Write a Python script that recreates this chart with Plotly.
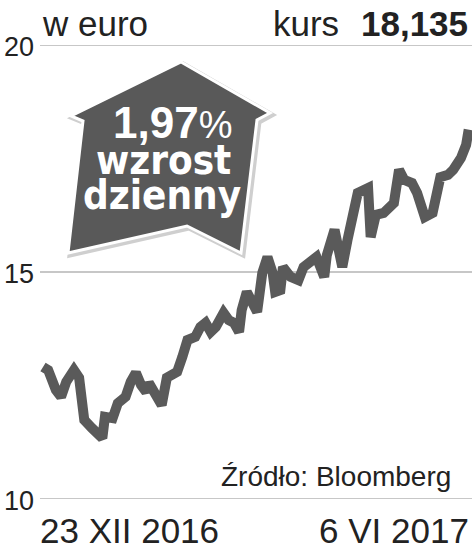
import plotly.graph_objects as go

# ---- data ----
days = [0, 2, 5, 7, 9, 10, 12, 14, 16, 19, 21, 23, 24, 27, 29, 32, 34, 36, 38, 40,
        41, 44, 46, 48, 50, 52, 54, 56, 59, 61, 63, 65, 67, 70, 72, 74, 76, 77, 79, 81,
        83, 85, 87, 89, 90, 92, 93, 96, 99, 101, 104, 106, 109, 110, 113, 116, 118, 120, 122, 126,
        127, 129, 132, 136, 138, 140, 143, 145, 148, 151, 153, 154, 157, 159, 162, 164, 165]
kurs = [12.91, 12.84, 12.40, 12.25, 12.58, 12.67, 12.84, 12.67, 11.74, 11.56, 11.48, 11.34, 11.81, 11.78, 12.11, 12.25, 12.58, 12.78, 12.51, 12.36,
        12.56, 12.29, 12.07, 12.67, 12.73, 12.80, 13.13, 13.50, 13.57, 13.79, 13.88, 13.68, 13.79, 14.10, 13.94, 13.88, 13.68, 14.16, 14.56, 14.38,
        14.12, 14.98, 15.33, 14.98, 14.56, 14.60, 15.11, 14.89, 14.82, 15.11, 15.26, 15.33, 14.89, 15.37, 15.93, 15.11, 15.70, 16.15, 16.74, 16.85,
        15.77, 16.26, 16.30, 16.52, 17.25, 17.03, 16.96, 16.74, 16.21, 16.30, 16.74, 17.09, 17.14, 17.25, 17.51, 17.80, 18.135]
y_ticks = [10, 15, 20]
y_tick_labels = ["10", "15", "20"]
date_labels = ["23 XII 2016", "6 VI 2017"]
unit_label = "w euro"
price_label = "18,135"
change_label = "1,97"
source_label = "Źródło: Bloomberg"

W, H = 476, 549
L, R, T, B = 40, 4, 45, 50
PW, PH = W - L - R, H - T - B
X0_PX, PX_PER_DAY = 43, 2.58
x_range = [(L - X0_PX) / PX_PER_DAY, (W - R - X0_PX) / PX_PER_DAY]


def px(xp):  # page pixel -> paper x
    return (xp - L) / PW


def py(yp):  # page pixel -> paper y
    return (H - B - yp) / PH


TXT = "#222222"
SANS = "Liberation Sans, Arial, sans-serif"
NARROW = "Liberation Sans Narrow, Arial Narrow, DejaVu Sans Condensed, sans-serif"

fig = go.Figure()
fig.add_trace(go.Scatter(x=days, y=kurs, mode="lines",
                         line=dict(color="#5a5a5a", width=10),
                         hoverinfo="skip"))

shapes = []
for v in y_ticks:
    shapes.append(dict(type="line", xref="paper", yref="y", x0=0, x1=1, y0=v, y1=v,
                       line=dict(color="#b4b4b4", width=1.6), layer="below"))

# up-arrow badge
pts = [(181, 62), (270, 113), (257, 120), (241, 253), (187, 226), (68, 253), (83, 121), (71, 116)]


def path(points, dx=0, dy=0):
    return "M " + " L ".join(f"{px(a + dx):.4f},{py(b + dy):.4f}" for a, b in points) + " Z"


shapes.append(dict(type="path", xref="paper", yref="paper", path=path(pts, 2, 2),
                   fillcolor="#cfcfcf", line=dict(color="#cfcfcf", width=5), layer="above"))
shapes.append(dict(type="path", xref="paper", yref="paper", path=path(pts),
                   fillcolor="#595959", line=dict(color="white", width=3), layer="above"))

ann = []
for v, t in zip(y_ticks, y_tick_labels):
    ann.append(dict(x=px(2), y=py(45 + (20 - v) * PH / 10 + 2), xref="paper", yref="paper",
                    text=t, showarrow=False, xanchor="left", yanchor="middle",
                    font=dict(family=SANS, size=27, color=TXT)))
ann += [
    dict(x=px(40), y=py(23), text=unit_label, xanchor="left", yanchor="middle",
         font=dict(family=SANS, size=35, color=TXT)),
    dict(x=px(341), y=py(23), text="kurs", xanchor="right", yanchor="middle",
         font=dict(family=SANS, size=35, color=TXT)),
    dict(x=px(470), y=py(23), text="<b>" + price_label + "</b>", xanchor="right", yanchor="middle",
         font=dict(family=SANS, size=35, color=TXT)),
    dict(x=px(453), y=py(476), text=source_label, xanchor="right", yanchor="middle",
         font=dict(family=SANS, size=28, color=TXT)),
    dict(x=px(38), y=py(530), text=date_labels[0], xanchor="left", yanchor="middle",
         font=dict(family=SANS, size=35, color=TXT)),
    dict(x=px(471), y=py(530), text=date_labels[1], xanchor="right", yanchor="middle",
         font=dict(family=SANS, size=35, color=TXT)),
    dict(x=px(172), y=py(122),
         text="<b>" + change_label + "</b><span style='font-size:38px'>%</span>",
         xanchor="center", yanchor="middle",
         font=dict(family=SANS, size=44, color="white")),
    dict(x=px(163), y=py(160), text="<b>wzrost</b>", xanchor="center", yanchor="middle",
         font=dict(family=NARROW, size=40, color="white")),
    dict(x=px(162), y=py(195), text="<b>dzienny</b>", xanchor="center", yanchor="middle",
         font=dict(family=NARROW, size=40, color="white")),
]
for a in ann:
    a.setdefault("xref", "paper")
    a.setdefault("yref", "paper")
    a["showarrow"] = False

fig.update_layout(
    width=W, height=H, margin=dict(l=L, r=R, t=T, b=B),
    paper_bgcolor="white", plot_bgcolor="white", showlegend=False,
    xaxis=dict(range=x_range, visible=False, fixedrange=True),
    yaxis=dict(range=[10, 20], visible=False, fixedrange=True),
    shapes=shapes, annotations=ann,
)
fig.write_html("out.html", config={"displayModeBar": False},
               post_script="document.body.style.margin='0';document.body.style.overflow='hidden';")
